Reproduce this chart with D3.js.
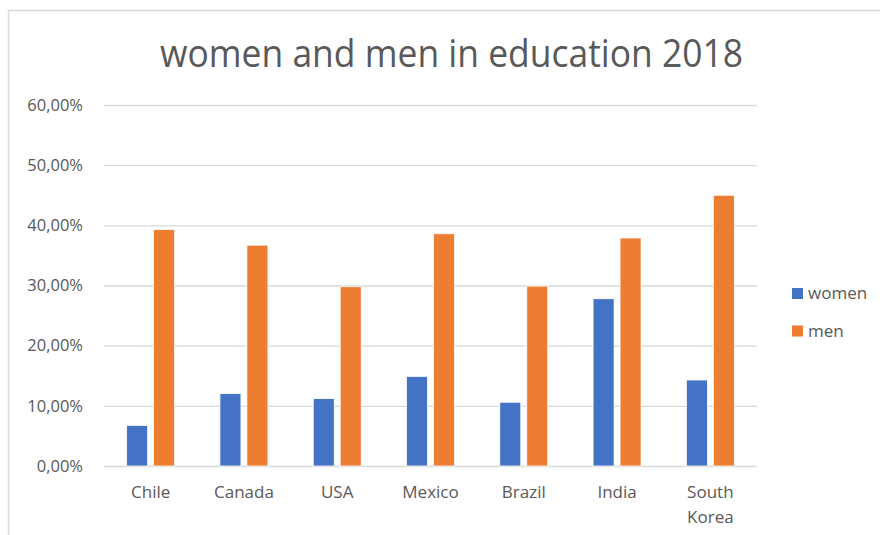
<!DOCTYPE html>
<html>
<head>
<meta charset="utf-8">
<script src="https://cdn.jsdelivr.net/npm/d3@7"></script>
<style>
	body { margin: 0; background: #fff; }
	text { font-family: "Open Sans", sans-serif; fill: #595959; }
</style>
</head>
<body>
<div id="chart"></div>
<script>
var countries = ["Chile", "Canada", "USA", "Mexico", "Brazil", "India", "South Korea"];
var series = ["women", "men"];
var women = [0.0675, 0.1205, 0.112, 0.149, 0.106, 0.278, 0.143];
var men = [0.393, 0.367, 0.298, 0.386, 0.299, 0.379, 0.450];
var colors = ["#4472C4", "#ED7D31"];
var yTicks = [0, 0.1, 0.2, 0.3, 0.4, 0.5, 0.6];

var width = 880, height = 535;
var plot = {left: 104, right: 757, top: 105, bottom: 466};

var locale = d3.formatLocale({decimal: ",", thousands: ".", grouping: [3], currency: ["", "€"]});
var pct = locale.format(".2%");

var svg = d3.select("#chart").append("svg")
	.attr("width", width)
	.attr("height", height);

// outer chart frame
svg.append("rect")
	.attr("x", 8.5).attr("y", 10.5)
	.attr("width", 900).attr("height", 600)
	.attr("fill", "none")
	.attr("stroke", "#d9d9d9")
	.attr("stroke-width", 1.5);

svg.append("text")
	.attr("x", 451.5).attr("y", 67)
	.attr("text-anchor", "middle")
	.attr("font-size", 38)
	.attr("textLength", 583)
	.attr("lengthAdjust", "spacingAndGlyphs")
	.text("women and men in education 2018");

var y = d3.scaleLinear()
	.domain([0, 0.6])
	.range([plot.bottom, plot.top]);

var x0 = d3.scaleBand()
	.domain(countries)
	.range([plot.left, plot.right]);

var x1 = d3.scaleBand()
	.domain(series)
	.range([x0.bandwidth() / 2 - 24, x0.bandwidth() / 2 + 24])
	.paddingInner(0.22);

var yAxis = svg.append("g")
	.attr("transform", "translate(" + plot.left + ",0)")
	.call(d3.axisLeft(y).tickValues(yTicks).tickFormat(pct)
		.tickSize(-(plot.right - plot.left)).tickPadding(21));
yAxis.select(".domain").remove();
yAxis.selectAll(".tick line").attr("stroke", "#d9d9d9").attr("stroke-width", 1.3);
yAxis.selectAll(".tick text")
	.attr("font-size", 16.5)
	.attr("fill", "#595959")
	.style("font-family", "'Open Sans', sans-serif");

var rows = countries.map(function(c, i){
	return {country: c, values: [women[i], men[i]]};
});

var groups = svg.selectAll("g.country").data(rows).enter()
	.append("g")
	.attr("class", "country")
	.attr("transform", function(d){ return "translate(" + x0(d.country) + ",0)"; });

groups.selectAll("rect").data(function(d){
		return d.values.map(function(v, j){ return {key: series[j], value: v, idx: j}; });
	}).enter()
	.append("rect")
	.attr("x", function(d){ return x1(d.key); })
	.attr("y", function(d){ return y(d.value); })
	.attr("width", x1.bandwidth())
	.attr("height", function(d){ return y(0) - y(d.value); })
	.attr("fill", function(d){ return colors[d.idx]; })
	.attr("stroke", "#fff")
	.attr("stroke-width", 0.8);

// category labels, wrapped on spaces for long names
svg.selectAll("text.cat").data(countries).enter()
	.append("text")
	.attr("class", "cat")
	.attr("text-anchor", "middle")
	.attr("font-size", 17)
	.attr("y", 498)
	.each(function(d){
		var words = d.length > 8 ? d.split(" ") : [d];
		var t = d3.select(this);
		words.forEach(function(w, k){
			t.append("tspan")
				.attr("x", x0(d) + x0.bandwidth() / 2)
				.attr("dy", k == 0 ? 0 : 25)
				.text(w);
		});
	});

var legend = svg.selectAll("g.legend").data(series).enter()
	.append("g")
	.attr("class", "legend")
	.attr("transform", function(d, i){ return "translate(792," + (288 + i * 37.5) + ")"; });
legend.append("rect")
	.attr("width", 11).attr("height", 11)
	.attr("fill", function(d, i){ return colors[i]; });
legend.append("text")
	.attr("x", 16).attr("y", 5.5)
	.attr("dy", "0.35em")
	.attr("font-size", 17)
	.text(function(d){ return d; });
</script>
</body>
</html>
